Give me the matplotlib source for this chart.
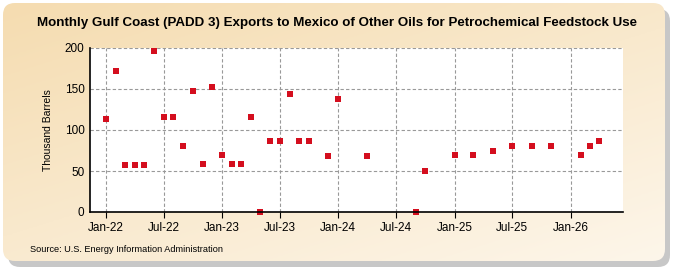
#!/usr/bin/env python3
"""
Monthly Gulf Coast (PADD 3) exports to Mexico of other oils for petrochemical feedstock use.
"""

import datetime as dt
import matplotlib
matplotlib.use('Agg')
import matplotlib.pyplot as plt
import numpy as np
from matplotlib.patches import FancyBboxPatch

# Data (thousand barrels)
months = ['2022-01', '2022-02', '2022-03', '2022-04', '2022-05', '2022-06',
          '2022-07', '2022-08', '2022-09', '2022-10', '2022-11', '2022-12',
          '2023-01', '2023-02', '2023-03', '2023-04', '2023-05', '2023-06',
          '2023-07', '2023-08', '2023-09', '2023-10', '2023-12', '2024-01',
          '2024-04', '2024-09', '2024-10', '2025-01', '2025-03', '2025-05',
          '2025-07', '2025-09', '2025-11', '2026-02', '2026-03', '2026-04']
values = [114, 172, 57, 57, 57, 196,
          116, 116, 80, 147, 59, 152,
          70, 58, 58, 116, 0, 86,
          86, 144, 87, 87, 68, 138,
          68, 0, 50, 69, 70, 74,
          80, 80, 80, 69, 80, 86]

tick_months = ['2022-01', '2022-07', '2023-01', '2023-07', '2024-01',
               '2024-07', '2025-01', '2025-07', '2026-01']
tick_labels = ['Jan-22', 'Jul-22', 'Jan-23', 'Jul-23', 'Jan-24',
               'Jul-24', 'Jan-25', 'Jul-25', 'Jan-26']
y_ticks = [0, 50, 100, 150, 200]


def to_date(s):
    y, m = s.split('-')
    return dt.date(int(y), int(m), 1)


def fit_width(fig, txt, target_px):
    # scale a text so it spans the same width as in the reference
    renderer = fig.canvas.get_renderer()
    w = txt.get_window_extent(renderer).width
    txt.set_fontsize(txt.get_fontsize() * target_px / w)


def main():
    plt.rcParams['font.family'] = ['Liberation Sans', 'DejaVu Sans']

    fig = plt.figure(figsize=(6.75, 2.75), dpi=100)
    fig.patch.set_facecolor('white')

    # Background panel with tan -> cream gradient and a soft shadow
    bg = fig.add_axes([0, 0, 1, 1], zorder=-10)
    bg.set_xlim(0, 675)
    bg.set_ylim(275, 0)
    bg.axis('off')
    shadow = FancyBboxPatch((8, 9), 662, 258, boxstyle='round,pad=0,rounding_size=12',
                            facecolor='#b0b0b0', edgecolor='none', alpha=0.7)
    bg.add_patch(shadow)
    panel = FancyBboxPatch((3, 3), 662, 258, boxstyle='round,pad=0,rounding_size=12',
                           facecolor='none', edgecolor='none')
    bg.add_patch(panel)
    gx = np.linspace(0, 1, 200)
    gy = np.linspace(0, 1, 100)
    GX, GY = np.meshgrid(gx, gy)
    t = np.clip(0.55 * GY + 0.45 * GX, 0, 1)
    c0 = np.array([0xF5, 0xDC, 0xB0]) / 255.0
    c1 = np.array([0xFD, 0xF6, 0xEA]) / 255.0
    img = c0[None, None, :] * (1 - t[..., None]) + c1[None, None, :] * t[..., None]
    im = bg.imshow(img, extent=(3, 665, 261, 3), aspect='auto', zorder=1)
    im.set_clip_path(panel)

    ax = fig.add_axes([90 / 675, 1 - 212 / 275, 533 / 675, 164 / 275])
    ax.set_facecolor('white')

    dates = [to_date(m) for m in months]
    ax.plot(dates, values, linestyle='none', marker='s', markersize=3.8,
            color='#D40E1E', markeredgewidth=0, zorder=3, clip_on=False)

    ax.set_xlim(dt.date(2021, 11, 12), dt.date(2026, 6, 14))
    ax.set_ylim(0, 200)
    ax.set_xticks([to_date(m) for m in tick_months])
    ax.set_xticklabels(tick_labels)
    ax.set_yticks(y_ticks)
    ax.tick_params(axis='both', labelsize=8.5, length=4, color='black')
    ax.tick_params(axis='x', direction='out')
    ax.tick_params(axis='y', length=0, pad=4)
    ax.grid(True, color='#999999', linestyle=(0, (3, 2)), linewidth=0.8)

    for side in ['top', 'right']:
        ax.spines[side].set_visible(False)
    ax.spines['left'].set_linewidth(1.2)
    ax.spines['bottom'].set_linewidth(1.2)
    ax.spines['left'].set_zorder(4)
    ax.spines['bottom'].set_zorder(4)

    ax.set_ylabel('Thousand Barrels', fontsize=7.5, labelpad=8)

    title = fig.text(337 / 675, 0.915,
                     'Monthly Gulf Coast (PADD 3) Exports to Mexico of Other Oils for Petrochemical Feedstock Use',
                     ha='center', va='center', fontsize=10, fontweight='bold')
    source = fig.text(30 / 675, 1 - 250 / 275, 'Source: U.S. Energy Information Administration',
                      ha='left', va='center', fontsize=6.5)
    fit_width(fig, title, 603)
    fit_width(fig, source, 192)

    fig.savefig('out.png', dpi=100)


if __name__ == '__main__':
    main()
